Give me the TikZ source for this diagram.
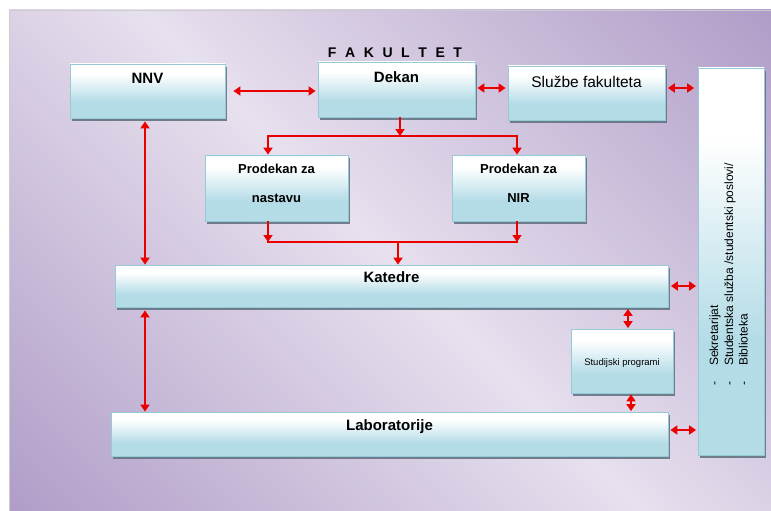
\documentclass[tikz,border=0pt]{standalone}
\usepackage{fontspec}
\setmainfont{Liberation Sans}
\usetikzlibrary{arrows.meta,shadows}

\definecolor{bglight}{RGB}{231,224,238}
\definecolor{bgdark}{RGB}{176,158,200}
\definecolor{boxblue}{RGB}{180,220,231}
\definecolor{boxline}{RGB}{150,202,216}
\definecolor{shadowc}{RGB}{100,116,130}
\definecolor{arrred}{RGB}{235,0,0}

\pgfdeclarehorizontalshading{bgshade}{100bp}{color(0bp)=(bgdark); color(15bp)=(bgdark); color(50bp)=(bglight); color(85bp)=(bgdark); color(100bp)=(bgdark)}
\pgfdeclareverticalshading{boxshade}{100bp}{color(0bp)=(boxblue); color(40bp)=(boxblue); color(66bp)=(white); color(100bp)=(white)}

\tikzset{
  boxn/.style={draw=boxline, line width=0.8pt, shade, shading=boxshade, inner sep=0pt,
    drop shadow={shadow xshift=2.2pt, shadow yshift=-2.6pt, fill=shadowc, opacity=0.9}},
  boldlbl/.style={inner sep=0pt, anchor=base, font=\fontsize{15}{18}\selectfont\bfseries},
  midlbl/.style={inner sep=0pt, anchor=base, font=\fontsize{13}{16}\selectfont\bfseries},
  conn/.style={draw=arrred, line width=2.9pt},
  >={Triangle[length=7pt,width=9pt]}
}

\begin{document}
\begin{tikzpicture}[x=1pt,y=-1pt]
\useasboundingbox (0,0) rectangle (771,511);
\fill[white] (0,0) rectangle (771,511);
\shade[shading=bgshade, shading angle=45] (9,10) rectangle (771,511);
\draw[black!20, line width=0.6pt] (771,10) -- (9,10) -- (9,511);

% title
\node[inner sep=0pt, anchor=base, font=\fontsize{14}{16}\selectfont\bfseries] (fak) at (395,58)
  {F\hspace{8.6pt}A\hspace{8.6pt}K\hspace{8.6pt}U\hspace{8.6pt}L\hspace{8.6pt}T\hspace{8.6pt}E\hspace{8.6pt}T};

% boxes
\node[boxn, minimum width=155pt, minimum height=54pt] (nnv) at (147.5,91) {};
\node[boxn, minimum width=157pt, minimum height=55pt] (dekan) at (396.5,89.5) {};
\node[boxn, minimum width=157pt, minimum height=54pt] (sluzbe) at (586.5,93) {};
\node[boxn, minimum width=66pt, minimum height=387pt] (sek) at (731,261.5) {};
\node[boxn, minimum width=143pt, minimum height=66pt] (pn) at (276.5,188) {};
\node[boxn, minimum width=133pt, minimum height=66pt] (nir) at (518.5,188) {};
\node[boxn, minimum width=553pt, minimum height=42pt] (kat) at (391.5,286) {};
\node[boxn, minimum width=102pt, minimum height=64pt] (stud) at (622,361) {};
\node[boxn, minimum width=557pt, minimum height=44pt] (lab) at (389.5,434) {};

% labels
\node[boldlbl] (nnvT) at (147.5,84) {NNV};
\node[boldlbl] (dekanT) at (396.5,82.5) {Dekan};
\node[inner sep=0pt, anchor=base, font=\fontsize{15.5}{18}\selectfont] (sluzbeT) at (586.5,88) {Službe fakulteta};
\node[midlbl] (pnT1) at (276.5,173) {Prodekan za};
\node[midlbl] (pnT2) at (276.5,202) {nastavu};
\node[midlbl] (nirT1) at (518.5,173) {Prodekan za};
\node[midlbl] (nirT2) at (518.5,202) {NIR};
\node[boldlbl] (katT) at (391.5,282.5) {Katedre};
\node[boldlbl] (labT) at (389.5,430.5) {Laboratorije};
\node[inner sep=0pt, anchor=base, font=\fontsize{9.5}{11}\selectfont] (studT) at (622,365.5) {Studijski programi};
\begin{scope}[every node/.style={inner sep=0pt, anchor=base west, rotate=90, font=\fontsize{12}{15}\selectfont}]
\node (sekT1) at (718,386) {\makebox[20pt][l]{-}Sekretarijat};
\node (sekT2) at (733,386) {\makebox[20pt][l]{-}Studentska služba /studentski poslovi/};
\node (sekT3) at (747.5,386) {\makebox[20pt][l]{-}Biblioteka};
\end{scope}

% connector helper coordinates
\coordinate (ytop) at (0,88);
\coordinate (j1) at (400,136);
\coordinate (j2) at (398,242);
\coordinate (pnin) at ([xshift=-8.5pt]pn.north);
\coordinate (pnout) at ([xshift=-8.5pt]pn.south);
\coordinate (nirin) at ([xshift=-1.5pt]nir.north);
\coordinate (nirout) at ([xshift=-1.5pt]nir.south);
\coordinate (vx) at (145,0);
\coordinate (sx1) at (628,0);
\coordinate (sx2) at (631,0);
\coordinate (ylab) at (0,430);

% connectors
\draw[conn,<->, shorten <=8pt, shorten >=2pt] (nnv.east) -- (nnv.east -| dekan.west);
\draw[conn,<->, shorten <=2pt, shorten >=2pt] (ytop -| dekan.east) -- (ytop -| sluzbe.west);
\draw[conn,<->, shorten <=2.5pt, shorten >=3.5pt] (ytop -| sluzbe.east) -- (ytop -| sek.west);

\draw[conn,->] (j1 |- dekan.south) -- (j1);
\draw[conn,->] (j1) -| (pnin);
\draw[conn,->] (j1) -| (nirin);

\draw[conn,->] (pnout) -- (pnout |- j2);
\draw[conn,->] (nirout) -- (nirout |- j2);
\draw[conn, line cap=rect] (pnout |- j2) -- (nirout |- j2);
\draw[conn,->] (j2) -- (j2 |- kat.north);

\draw[conn,<->, shorten <=3pt] (vx |- nnv.south) -- (vx |- kat.north);
\draw[conn,<->, shorten <=3pt] (vx |- kat.south) -- (vx |- lab.north);
\draw[conn,<->, shorten <=1.5pt, shorten >=0.5pt] (sx1 |- kat.south) -- (sx1 |- stud.north);
\draw[conn,<->, shorten <=1pt, shorten >=0.5pt] (sx2 |- stud.south) -- (sx2 |- lab.north);
\draw[conn,<->, shorten <=2.5pt, shorten >=1.5pt] (kat.east) -- (kat.east -| sek.west);
\draw[conn,<->, shorten <=2pt, shorten >=1.5pt] (ylab -| lab.east) -- (ylab -| sek.west);
\end{tikzpicture}
\end{document}
